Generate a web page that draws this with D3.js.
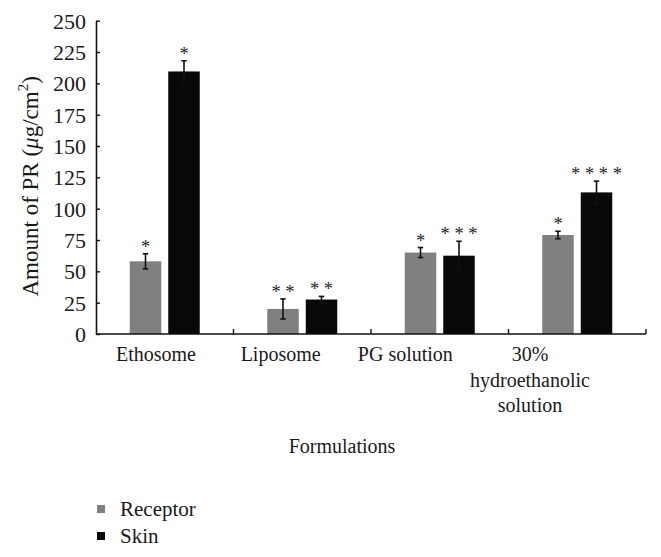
<!DOCTYPE html>
<html><head><meta charset="utf-8">
<script src="https://cdn.jsdelivr.net/npm/d3@7"></script>
<style>body{margin:0;background:#fff}svg{display:block}</style>
</head><body><svg id="c" width="661" height="557" font-family="Liberation Serif"></svg>
<script>
const categories = ["Ethosome", "Liposome", "PG solution", "30%\nhydroethanolic\nsolution"];
const seriesNames = ["Receptor", "Skin"];
const receptor = [58, 20, 65, 79];
const receptorErr = [6, 8, 4, 3];
const skin = [209.5, 27.5, 62.5, 113];
const skinErr = [8.5, 2.5, 11.5, 9];
const receptorStars = ["*", "* *", "*", "*"];
const skinStars = ["*", "* *", "* * *", "* * * *"];
const yTicks = [0, 25, 50, 75, 100, 125, 150, 175, 200, 225, 250];
const colors = ["#808080", "#070909"];

const FONT = "Liberation Serif";
const svg = d3.select("#c");
const L = 96, R = 646, T = 20.7, B = 334;
const x = d3.scaleBand().domain(categories).range([L, R]).paddingInner(0).paddingOuter(0);
const y = d3.scaleLinear().domain([0, 250]).range([B, T]);
const xLab = d3.scalePoint().domain(categories).range([156, 530]);
const bw = 31.5, gap = 7;
const sub = d3.scaleOrdinal().domain(seriesNames).range([-(gap/2) - bw, gap/2]);

const data = [];
categories.forEach((c, i) => {
  data.push({c, s: "Receptor", v: receptor[i], e: receptorErr[i], st: receptorStars[i], col: colors[0]});
  data.push({c, s: "Skin", v: skin[i], e: skinErr[i], st: skinStars[i], col: colors[1]});
});
const cx = d => x(d.c) + x.bandwidth()/2 + sub(d.s);

svg.append("g").selectAll("rect").data(data).join("rect")
  .attr("x", d => cx(d)).attr("width", bw)
  .attr("y", d => y(d.v)).attr("height", d => y(0) - y(d.v))
  .attr("fill", d => d.col);

// error bars
const eg = svg.append("g").attr("stroke", "#111").attr("stroke-width", 1.6).attr("fill", "none");
data.forEach(d => {
  const m = cx(d) + bw/2;
  eg.append("line").attr("x1", m).attr("x2", m).attr("y1", y(d.v + d.e)).attr("y2", y(d.v - d.e));
  [d.v + d.e, d.v - d.e].forEach(t => eg.append("line").attr("x1", m - 2.7).attr("x2", m + 2.7).attr("y1", y(t)).attr("y2", y(t)));
});
// stars
svg.append("g").selectAll("text").data(data).join("text")
  .attr("x", d => cx(d) + bw/2).attr("y", d => y(d.v + d.e) - 1)
  .attr("text-anchor", "middle").attr("font-size", 18.5).attr("fill", "#222").attr("font-family", FONT)
  .text(d => d.st);

// y axis
const ya = svg.append("g").attr("transform", `translate(${L},0)`)
  .call(d3.axisLeft(y).tickValues(yTicks).tickSizeInner(-4).tickSizeOuter(0).tickPadding(10));
ya.attr("font-family", FONT).attr("font-size", 22);
ya.select(".domain").attr("stroke", "#111").attr("stroke-width", 1.6);
ya.selectAll(".tick line").attr("stroke", "#111").attr("stroke-width", 1.4);
ya.selectAll(".tick text").attr("fill", "#1a1a1a").attr("dy", "0.34em");

// x axis
svg.append("line").attr("x1", L).attr("x2", R).attr("y1", B).attr("y2", B).attr("stroke", "#111").attr("stroke-width", 1.6);
svg.append("g").selectAll("line").data(categories).join("line")
  .attr("x1", d => x(d) + x.bandwidth()).attr("x2", d => x(d) + x.bandwidth())
  .attr("y1", B).attr("y2", B - 5).attr("stroke", "#111").attr("stroke-width", 1.4);
const xl = svg.append("g").attr("font-family", FONT).selectAll("text").data(categories).join("text")
  .attr("text-anchor", "middle").attr("font-size", 20).attr("fill", "#1a1a1a");
xl.each(function(d) {
  const lines = d.split("\n");
  d3.select(this).selectAll("tspan").data(lines).join("tspan")
    .attr("x", xLab(d)).attr("y", (l, i) => 361 + i * 25.5).text(l => l);
});

// axis titles
svg.append("text").attr("x", 342).attr("y", 453).attr("text-anchor", "middle").attr("font-size", 20)
  .attr("font-family", FONT).attr("fill", "#1a1a1a").text("Formulations");
const yt = svg.append("text").attr("transform", `translate(38,${(T + B)/2 + 9}) rotate(-90)`).attr("text-anchor", "middle")
  .attr("font-size", 23).attr("font-family", FONT).attr("fill", "#1a1a1a");
yt.append("tspan").text("Amount of PR (");
yt.append("tspan").attr("font-style", "italic").text("μ");
yt.append("tspan").text("g/cm");
yt.append("tspan").attr("font-size", 15).attr("dy", -10).text("2");
yt.append("tspan").attr("dy", 10).text(")");

// legend
const lg = svg.append("g").attr("font-family", FONT).selectAll("g").data(seriesNames).join("g")
  .attr("transform", (d, i) => `translate(97,${505 + i * 27})`);
lg.append("rect").attr("width", 8).attr("height", 8).attr("fill", (d, i) => colors[i]);
lg.append("text").attr("x", 23).attr("y", 11).attr("font-size", 21).attr("fill", "#1a1a1a").text(d => d);
</script></body></html>
